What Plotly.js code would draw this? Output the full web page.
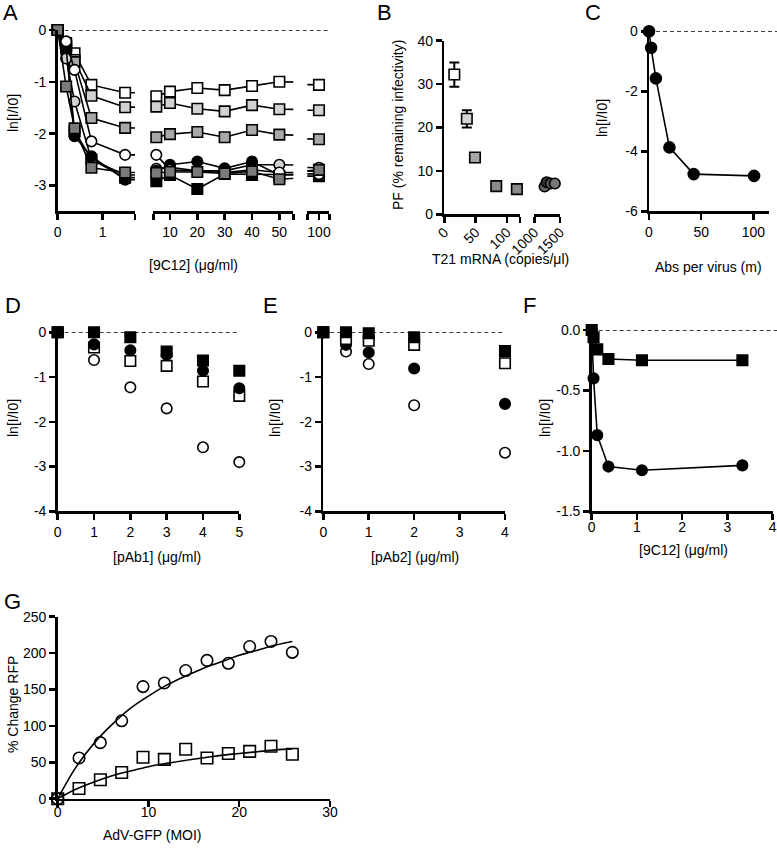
<!DOCTYPE html>
<html>
<head>
<meta charset="utf-8">
<script src="https://cdn.plot.ly/plotly-3.0.1.min.js"></script>
<style>html,body{margin:0;padding:0;background:#fff}</style>
</head>
<body>
<div id="fig" style="width:777px;height:849px"></div>
<script>
// ---- panel A: ln[I/I0] vs [9C12], broken x axis
const aX = [0, 0.1875, 0.375, 0.75, 1.5, 5, 10, 20, 30, 40, 50, 100];
const aWhiteSq = [0, -0.25, -0.45, -1.06, -1.21, -1.28, -1.19, -1.12, -1.16, -1.08, -1.0, -1.06];
const aLightSq = [0, -0.3, -0.58, -1.27, -1.49, -1.48, -1.41, -1.52, -1.57, -1.45, -1.53, -1.55];
const aMidSq = [0, -0.35, -0.62, -1.70, -1.89, -2.07, -2.01, -1.97, -2.07, -1.93, -2.02, -2.11];
const aWhiteCi = [0, -0.22, -0.77, -2.15, -2.41, -2.41, -2.7, -2.72, -2.75, -2.7, -2.75, -2.78];
const aLightCi = [0, -0.55, -1.38, -2.5, -2.8, -2.68, -2.65, -2.72, -2.72, -2.6, -2.6, -2.66];
const aBlackCi = [0, -0.35, -2.05, -2.44, -2.89, -2.72, -2.6, -2.54, -2.67, -2.54, -2.8, -2.72];
const aDarkSq = [0, -1.09, -1.9, -2.66, -2.75, -2.76, -2.74, -2.74, -2.77, -2.73, -2.88, -2.7];
const aBlackSq = [0, -0.3, -1.95, -2.5, -2.85, -2.92, -2.8, -3.07, -2.78, -2.8, -2.82, -2.82];

// ---- panel B: PF vs T21 mRNA
const bSqX = [16, 36, 49, 83, 116];
const bSqY = [32.2, 22.0, 13.1, 6.5, 5.8];
const bSqErr = [2.8, 2.0, null, null, null];
const bSqColors = ['#ffffff', '#d4d4d4', '#a6a6a6', '#8a8a8a', '#8a8a8a'];
const bCiX = [1200, 1240, 1320, 1400];
const bCiY = [6.4, 7.4, 7.1, 7.1];
const bCiColors = ['#666666', '#333333', '#555555', '#777777'];

// ---- panel C: Abs per virus
const cX = [0, 2, 6.6, 19.6, 42.8, 100.7];
const cY = [0, -0.55, -1.57, -3.87, -4.76, -4.82];

// ---- panel D: pAb1
const dX = [0, 1, 2, 3, 4, 5];
const dWhiteCi = [0, -0.62, -1.23, -1.70, -2.57, -2.90];
const dWhiteSq = [0, -0.34, -0.64, -0.75, -1.10, -1.42];
const dBlackCi = [0, -0.27, -0.4, -0.5, -0.86, -1.25];
const dBlackSq = [0, 0, -0.11, -0.43, -0.63, -0.86];

// ---- panel E: pAb2
const eX = [0, 0.5, 1, 2, 4];
const eWhiteCi = [0, -0.43, -0.71, -1.63, -2.69];
const eBlackCi = [0, -0.28, -0.45, -0.81, -1.60];
const eWhiteSq = [0, -0.15, -0.19, -0.28, -0.69];
const eBlackSq = [0, 0, -0.02, -0.11, -0.42];

// ---- panel F: 9C12 low range
const fX = [0, 0.041, 0.123, 0.37, 1.11, 3.33];
const fSq = [0, -0.06, -0.16, -0.24, -0.25, -0.25];
const fCi = [0, -0.40, -0.87, -1.13, -1.16, -1.12];

// ---- panel G: % change RFP vs AdV-GFP
const gX = [0, 2.35, 4.7, 7.05, 9.4, 11.75, 14.1, 16.45, 18.8, 21.15, 23.5, 25.85];
const gCi = [0, 56, 77, 107, 154, 159, 176, 190, 186, 209, 216, 201];
const gSq = [0, 14, 26, 36, 57, 54, 68, 56, 62, 65, 72, 61];
const gFitX = [0, 2, 4, 6, 8, 10, 12, 14, 16, 18, 20, 22, 24, 25.85];
const gFitCi = [0, 43, 76, 102, 124, 141, 156, 168, 179, 188, 197, 204, 211, 216];
const gFitSq = [0, 13, 23, 31.5, 38, 44, 48.5, 52.5, 56, 59.5, 62, 64.5, 67, 68.5];

const W = 777, H = 849;
const FONT = 'Arial, "Liberation Sans", Helvetica, sans-serif';
const TICK = 14, TITLE = 14;
const px = v => v / W;
const py = v => 1 - v / H;

function axisBase(extra) {
  return Object.assign({
    showline: true, linecolor: '#000', linewidth: 2.5,
    ticks: 'outside', ticklen: 6, tickwidth: 2.5, tickcolor: '#000',
    showgrid: false, zeroline: false, fixedrange: true,
    tickfont: {size: TICK, color: '#000', family: FONT}
  }, extra);
}
function xAx(left, right, range, vals, text, anchor, extra) {
  return axisBase(Object.assign({domain: [px(left), px(right)], range: range,
    tickmode: 'array', tickvals: vals, ticktext: text, anchor: anchor}, extra || {}));
}
function yAx(top, bottom, range, vals, text, anchor) {
  return axisBase({domain: [py(bottom), py(top)], range: range,
    tickmode: 'array', tickvals: vals, ticktext: text, anchor: anchor});
}

function mk(symbol, fill, size) {
  return {symbol: symbol, size: size || 10.5, color: fill, line: {color: '#000', width: 1.6}};
}

const traces = [];

// A: same series on each of the three x segments, lines clipped at the breaks
const aSeries = [
  [aWhiteSq, 'square', '#ffffff'],
  [aLightSq, 'square', '#d2d2d2'],
  [aMidSq, 'square', '#a8a8a8'],
  [aBlackSq, 'square', '#000000'],
  [aLightCi, 'circle', '#d2d2d2'],
  [aBlackCi, 'circle', '#000000'],
  [aWhiteCi, 'circle', '#ffffff'],
  [aDarkSq, 'square', '#7a7a7a']
];
['x', 'x2', 'x3'].forEach(xa => {
  aSeries.forEach(s => {
    traces.push({x: aX, y: s[0], xaxis: xa, yaxis: 'y', mode: 'lines+markers',
      line: {color: '#000', width: 1.6}, marker: mk(s[1], s[2]), cliponaxis: false,
      showlegend: false, hoverinfo: 'skip'});
  });
});

// B
traces.push({x: bSqX, y: bSqY, xaxis: 'x4', yaxis: 'y2', mode: 'markers',
  marker: mk('square', bSqColors),
  error_y: {type: 'data', array: bSqErr, color: '#000', thickness: 2, width: 5},
  cliponaxis: false, showlegend: false});
traces.push({x: bCiX, y: bCiY, xaxis: 'x5', yaxis: 'y2', mode: 'markers',
  marker: mk('circle', bCiColors), cliponaxis: false, showlegend: false});

// C
traces.push({x: cX, y: cY, xaxis: 'x6', yaxis: 'y3', mode: 'lines+markers',
  line: {color: '#000', width: 1.6}, marker: mk('circle', '#000', 11),
  cliponaxis: false, showlegend: false});

// D
[[dWhiteCi, 'circle', '#fff'], [dWhiteSq, 'square', '#fff'],
 [dBlackCi, 'circle', '#000'], [dBlackSq, 'square', '#000']].forEach(s => {
  traces.push({x: dX, y: s[0], xaxis: 'x7', yaxis: 'y4', mode: 'markers',
    marker: mk(s[1], s[2]), cliponaxis: false, showlegend: false});
});

// E
[[eWhiteCi, 'circle', '#fff'], [eBlackCi, 'circle', '#000'],
 [eWhiteSq, 'square', '#fff'], [eBlackSq, 'square', '#000']].forEach(s => {
  traces.push({x: eX, y: s[0], xaxis: 'x8', yaxis: 'y5', mode: 'markers',
    marker: mk(s[1], s[2]), cliponaxis: false, showlegend: false});
});

// F
traces.push({x: fX, y: fCi, xaxis: 'x9', yaxis: 'y6', mode: 'lines+markers',
  line: {color: '#000', width: 1.6}, marker: mk('circle', '#000'), cliponaxis: false, showlegend: false});
traces.push({x: fX, y: fSq, xaxis: 'x9', yaxis: 'y6', mode: 'lines+markers',
  line: {color: '#000', width: 1.6}, marker: mk('square', '#000'), cliponaxis: false, showlegend: false});

// G
traces.push({x: gFitX, y: gFitCi, xaxis: 'x10', yaxis: 'y7', mode: 'lines',
  line: {color: '#000', width: 1.6, shape: 'spline'}, showlegend: false});
traces.push({x: gFitX, y: gFitSq, xaxis: 'x10', yaxis: 'y7', mode: 'lines',
  line: {color: '#000', width: 1.6, shape: 'spline'}, showlegend: false});
traces.push({x: gX, y: gCi, xaxis: 'x10', yaxis: 'y7', mode: 'markers',
  marker: mk('circle-open', '#000', 11.5), cliponaxis: false, showlegend: false});
traces.push({x: gX, y: gSq, xaxis: 'x10', yaxis: 'y7', mode: 'markers',
  marker: mk('square-open', '#000', 11.5), cliponaxis: false, showlegend: false});

const layout = {
  width: W, height: H,
  margin: {l: 0, r: 0, t: 0, b: 0},
  paper_bgcolor: '#fff', plot_bgcolor: 'rgba(0,0,0,0)',
  font: {family: FONT, color: '#000', size: TICK},
  showlegend: false,

  // A
  xaxis: xAx(57.7, 135, [0, 1.72], [0, 1, 1.72], ['0', '1', ''], 'y'),
  xaxis2: xAx(153.3, 293.3, [3.9, 55.1], [3.9, 10, 20, 30, 40, 50, 55.1],
    ['', '10', '20', '30', '40', '50', ''], 'y'),
  xaxis3: xAx(307.3, 329.3, [95.7, 103.8], [95.7, 100, 103.8], ['', '100', ''], 'y'),
  yaxis: yAx(30, 211.3, [-3.5, 0], [0, -1, -2, -3], ['0', '-1', '-2', '-3'], 'x'),

  // B
  xaxis4: xAx(444.3, 520, [0, 121], [0, 50, 100, 121], ['0', '50', '100', ''], 'y2',
    {tickangle: -45, ticklabelstandoff: -4}),
  xaxis5: xAx(534.3, 560, [1000, 1500], [1000, 1500], ['1000', '1500'], 'y2',
    {tickangle: -45, ticklabelstandoff: -4}),
  yaxis2: yAx(40.7, 214.3, [0, 40], [0, 10, 20, 30, 40], ['0', '10', '20', '30', '40'], 'x4'),

  // C
  xaxis6: xAx(649, 769, [0, 115], [0, 50, 100], ['0', '50', '100'], 'y3'),
  yaxis3: yAx(31.3, 211.3, [-6, 0], [0, -2, -4, -6], ['0', '-2', '-4', '-6'], 'x6'),

  // D
  xaxis7: xAx(57.7, 239.3, [0, 5], [0, 1, 2, 3, 4, 5], ['0', '1', '2', '3', '4', '5'], 'y4'),
  yaxis4: yAx(332.3, 511.3, [-4, 0], [0, -1, -2, -3, -4], ['0', '-1', '-2', '-3', '-4'], 'x7'),

  // E
  xaxis8: xAx(323.3, 505, [0, 4], [0, 1, 2, 3, 4], ['0', '1', '2', '3', '4'], 'y5'),
  yaxis5: yAx(332.3, 511.3, [-4, 0], [0, -1, -2, -3, -4], ['0', '-1', '-2', '-3', '-4'], 'x8'),

  // F
  xaxis9: xAx(591.7, 772.7, [0, 4], [0, 1, 2, 3, 4], ['0', '1', '2', '3', '4'], 'y6',
    {ticklabelstandoff: -5}),
  yaxis6: yAx(330, 511.3, [-1.5, 0], [0, -0.5, -1, -1.5], ['0.0', '-0.5', '-1.0', '-1.5'], 'x9'),

  // G
  xaxis10: xAx(57.7, 330, [0, 30], [0, 10, 20, 30], ['0', '10', '20', '30'], 'y7',
    {ticklabelstandoff: -7}),
  yaxis7: yAx(616.7, 798.7, [0, 250], [0, 50, 100, 150, 200, 250], ['0', '50', '100', '150', '200', '250'], 'x10'),

  shapes: [],
  annotations: []
};

// dashed zero lines
function zeroLine(yref, x0, x1) {
  layout.shapes.push({type: 'line', xref: 'paper', yref: yref, x0: x0, x1: x1, y0: 0, y1: 0,
    layer: 'below', line: {color: '#000', width: 1.6, dash: '4px,3px'}});
}
zeroLine('y', layout.xaxis.domain[0], layout.xaxis3.domain[1]);
zeroLine('y3', layout.xaxis6.domain[0], 1);
zeroLine('y4', layout.xaxis7.domain[0], layout.xaxis7.domain[1]);
zeroLine('y5', layout.xaxis8.domain[0], layout.xaxis8.domain[1]);
zeroLine('y6', layout.xaxis9.domain[0], 1);

// panel letters
[['A', 1, -2], ['B', 375, -2], ['C', 583, -2], ['D', 3, 291], ['E', 261, 291], ['F', 521, 291], ['G', 2, 587]]
  .forEach(p => layout.annotations.push({text: p[0], xref: 'paper', yref: 'paper',
    x: px(p[1]), y: py(p[2]), xanchor: 'left', yanchor: 'top', showarrow: false,
    font: {size: 22, family: FONT, color: '#000'}}));

// axis titles
const yTitles = [['ln[I/I0]', 13, 113], ['PF (% remaining infectivity)', 398, 125], ['ln[I/I0]', 602, 118],
  ['ln[I/I0]', 13, 418], ['ln[I/I0]', 275, 418], ['ln[I/I0]', 545, 418], ['% Change RFP', 13, 705]];
const xTitles = [['[9C12] (μg/ml)', 193, 265], ['T21 mRNA (copies/μl)', 500, 259], ['Abs per virus (m)', 708, 267],
  ['[pAb1] (μg/ml)', 157, 557], ['[pAb2] (μg/ml)', 415, 557], ['[9C12] (μg/ml)', 683, 550], ['AdV-GFP (MOI)', 152, 835]];
yTitles.forEach(t => layout.annotations.push({text: t[0], xref: 'paper', yref: 'paper',
  x: px(t[1]), y: py(t[2]), xanchor: 'center', yanchor: 'middle', textangle: -90, showarrow: false,
  font: {size: TITLE, family: FONT, color: '#000'}}));
xTitles.forEach(t => layout.annotations.push({text: t[0], xref: 'paper', yref: 'paper',
  x: px(t[1]), y: py(t[2]), xanchor: 'center', yanchor: 'middle', showarrow: false,
  font: {size: TITLE, family: FONT, color: '#000'}}));

Plotly.newPlot('fig', traces, layout, {staticPlot: true, displayModeBar: false});
</script>
</body>
</html>
